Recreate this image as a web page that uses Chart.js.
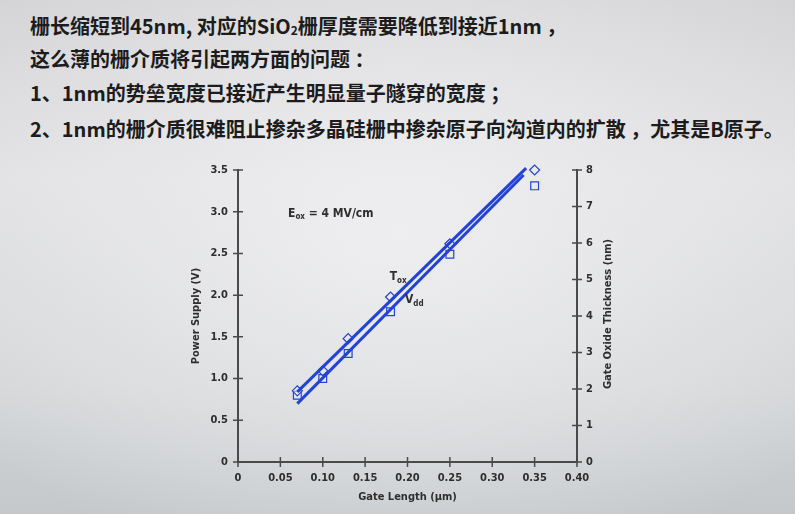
<!DOCTYPE html>
<html>
<head>
<meta charset="utf-8">
<script src="https://cdn.jsdelivr.net/npm/chart.js@4/dist/chart.umd.min.js"></script>
<style>
  html, body { margin: 0; padding: 0; }
  body {
    width: 795px; height: 514px; overflow: hidden; position: relative;
    background:
      radial-gradient(ellipse 520px 360px at 400px 230px, rgba(240,240,242,0.9), rgba(240,240,242,0) 100%),
      linear-gradient(180deg, #d4d4d6 0%, #e0e0e2 35%, #d4d6d8 75%, #c4c8cb 100%);
    font-family: "Noto Sans CJK SC", sans-serif;
  }
  .line {
    position: absolute; left: 30px; font-size: 20px; font-weight: bold;
    color: #1c1c1c; white-space: nowrap; line-height: 24px;
  }
  .line sub { font-size: 12px; vertical-align: -1px; }
  #wrap { position: absolute; left: 0; top: 0; width: 795px; height: 514px; }
</style>
</head>
<body>
<div class="line" style="top:14px">栅长缩短到45nm, 对应的SiO<sub>2</sub>栅厚度需要降低到接近1nm ，</div>
<div class="line" style="top:47px">这么薄的栅介质将引起两方面的问题 ：</div>
<div class="line" style="top:81px">1、1nm的势垒宽度已接近产生明显量子隧穿的宽度 ；</div>
<div class="line" style="top:117px">2、1nm的栅介质很难阻止掺杂多晶硅栅中掺杂原子向沟道内的扩散 ，尤其是B原子。</div>
<div id="wrap"><canvas id="myChart" width="795" height="514"></canvas></div>
<script>
// gate length (um) of the measured points
const gateLength = [0.07, 0.10, 0.13, 0.18, 0.25, 0.35];
// power supply Vdd (V), squares, left axis
const vddValues = [0.80, 1.00, 1.30, 1.80, 2.49, 3.31];
// gate oxide thickness Tox (nm), diamonds, right axis
const toxValues = [1.95, 2.50, 3.38, 4.52, 5.98, 8.0];
// fitted lines (end points)
const vddFitX = [0.07, 0.337];
const vddFitY = [0.70, 3.44];
const toxFitX = [0.07, 0.34];
const toxFitY = [1.92, 8.05];
// axis ticks
const xTicks = ['0', '0.05', '0.10', '0.15', '0.20', '0.25', '0.30', '0.35', '0.40'];
const leftTicks = ['0', '0.5', '1.0', '1.5', '2.0', '2.5', '3.0', '3.5'];
const rightTicks = ['0', '1', '2', '3', '4', '5', '6', '7', '8'];

const blue = '#2343d8';
const axisColor = '#4a4a4a';
const fam = '"DejaVu Sans Condensed", "Liberation Sans Narrow", sans-serif';
const tickFont = { family: fam, size: 11, weight: 'bold' };

const pts = (xs, ys) => xs.map((x, i) => ({ x: x, y: ys[i] }));

// draws the cross ticks, axis titles and the text labels inside the plot
const extras = {
  id: 'extras',
  afterDraw(chart) {
    const c = chart.ctx;
    const x = chart.scales.x, yl = chart.scales.yL, yr = chart.scales.yR;
    c.save();
    c.strokeStyle = axisColor;
    c.lineWidth = 1.5;
    c.beginPath();
    xTicks.forEach((t, i) => {
      const px = x.getPixelForValue(i * 0.05);
      c.moveTo(px, x.top - 5); c.lineTo(px, x.top + 5);
    });
    leftTicks.forEach((t, i) => {
      const py = yl.getPixelForValue(i * 0.5);
      c.moveTo(yl.right - 5, py); c.lineTo(yl.right + 5, py);
    });
    rightTicks.forEach((t, i) => {
      const py = yr.getPixelForValue(i);
      c.moveTo(yr.left - 5, py); c.lineTo(yr.left + 5, py);
    });
    c.stroke();

    c.fillStyle = '#2e2e2e';
    c.font = 'bold 11px ' + fam;
    c.textAlign = 'center';
    c.textBaseline = 'middle';
    c.fillText('Gate Length (\u00b5m)', (x.left + x.right) / 2, 497);
    c.save();
    c.translate(196, (yl.top + yl.bottom) / 2);
    c.rotate(-Math.PI / 2);
    c.fillText('Power Supply (V)', 0, 0);
    c.restore();
    c.save();
    c.translate(608, (yr.top + yr.bottom) / 2 - 2);
    c.rotate(-Math.PI / 2);
    c.fillText('Gate Oxide Thickness (nm)', 0, 0);
    c.restore();

    // labels in the plot, placed with data coordinates
    c.textAlign = 'left';
    function sub(main, small, rest, vx, vy) {
      let px = x.getPixelForValue(vx), py = yl.getPixelForValue(vy);
      c.font = 'bold 12px ' + fam;
      c.fillText(main, px, py);
      px += c.measureText(main).width;
      c.font = 'bold 8px ' + fam;
      c.fillText(small, px, py + 4);
      px += c.measureText(small).width;
      c.font = 'bold 12px ' + fam;
      c.fillText(rest, px, py);
    }
    sub('E', 'ox', ' = 4 MV/cm', 0.059, 2.98);
    sub('T', 'ox', '', 0.179, 2.22);
    sub('V', 'dd', '', 0.197, 1.94);
    c.restore();
  }
};

const ctx = document.getElementById('myChart').getContext('2d');
const chart = new Chart(ctx, {
  type: 'scatter',
  data: {
    datasets: [
      {
        label: 'Tox fit', type: 'line', yAxisID: 'yR', clip: false,
        data: pts(toxFitX, toxFitY),
        borderColor: blue, borderWidth: 3, pointRadius: 0, fill: false
      },
      {
        label: 'Vdd fit', type: 'line', yAxisID: 'yL', clip: false,
        data: pts(vddFitX, vddFitY),
        borderColor: blue, borderWidth: 3, pointRadius: 0, fill: false
      },
      {
        label: 'Tox', yAxisID: 'yR', clip: false,
        data: pts(gateLength, toxValues),
        pointStyle: 'rectRot', pointRadius: 5,
        borderColor: blue, borderWidth: 1.2, backgroundColor: 'rgba(235,235,240,0.6)'
      },
      {
        label: 'Vdd', yAxisID: 'yL', clip: false,
        data: pts(gateLength, vddValues),
        pointStyle: 'rect', pointRadius: 5.5,
        borderColor: blue, borderWidth: 1.2, backgroundColor: 'rgba(235,235,240,0.6)'
      }
    ]
  },
  options: {
    responsive: false,
    animation: false,
    layout: { padding: { top: 170, left: 0, right: 0, bottom: 0 } },
    plugins: { legend: { display: false }, tooltip: { enabled: false } },
    scales: {
      x: {
        type: 'linear', min: 0, max: 0.4,
        afterFit: s => { s.height = 52; },
        border: { color: axisColor, width: 2 },
        grid: { display: false, drawTicks: false },
        ticks: {
          stepSize: 0.05, autoSkip: false, maxRotation: 0, padding: 10,
          color: '#2e2e2e', font: tickFont,
          callback: (v, i) => xTicks[i]
        }
      },
      yL: {
        type: 'linear', position: 'left', min: 0, max: 3.5,
        afterFit: s => { s.width = 238; },
        border: { color: axisColor, width: 2 },
        grid: { display: false, drawTicks: false },
        ticks: {
          stepSize: 0.5, autoSkip: false, padding: 10,
          color: '#2e2e2e', font: tickFont,
          callback: (v, i) => leftTicks[i]
        }
      },
      yR: {
        type: 'linear', position: 'right', min: 0, max: 8,
        afterFit: s => { s.width = 218; },
        border: { color: axisColor, width: 2 },
        grid: { display: false, drawTicks: false },
        ticks: {
          stepSize: 1, autoSkip: false, padding: 9,
          color: '#2e2e2e', font: tickFont,
          callback: (v, i) => rightTicks[i]
        }
      }
    }
  },
  plugins: [extras]
});
</script>
</body>
</html>
